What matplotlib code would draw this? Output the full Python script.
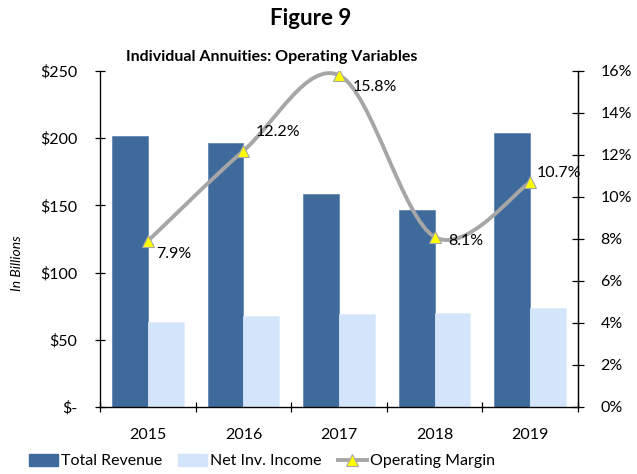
import numpy as np
import matplotlib
matplotlib.use("Agg")
import matplotlib.pyplot as plt
from matplotlib.path import Path
from matplotlib.patches import PathPatch, Patch
from matplotlib.lines import Line2D

plt.rcParams["font.family"] = ["Lato", "DejaVu Sans"]

years = ["2015", "2016", "2017", "2018", "2019"]
total_revenue = [201.5, 196.5, 158.5, 146.5, 203.5]     # $ billions
net_inv_income = [63.0, 68.0, 69.0, 70.0, 74.0]         # $ billions
op_margin = [7.9, 12.2, 15.8, 8.1, 10.7]                # percent
left_ticks = [0, 50, 100, 150, 200, 250]
left_labels = ["$-", "$50", "$100", "$150", "$200", "$250"]
right_ticks = [0, 2, 4, 6, 8, 10, 12, 14, 16]

DARK = "#3E6A9C"
LIGHT = "#D3E5FB"
GREY = "#A6A6A6"
# label offsets (points) relative to each marker
LABEL_OFF = [(6, -9.5), (8.5, 13.5), (10, -8.5), (9.5, -3), (4.5, 7)]

fig = plt.figure(figsize=(6.37, 4.74), dpi=100)
ax = fig.add_axes([100 / 637, 1 - 407 / 474, 478 / 637, 336 / 474])
x = np.arange(len(years))
w = 0.375
ax.bar(x - w / 2, total_revenue, w, color=DARK, edgecolor="#5A7FAE", lw=0.5, zorder=2)
ax.bar(x + w / 2, net_inv_income, w, color=LIGHT, edgecolor="#E2EEFC", lw=0.5, zorder=2)
ax.set_xlim(-0.5, len(years) - 0.5)
ax.set_ylim(0, 250)
ax.set_yticks(left_ticks)
ax.set_yticklabels(left_labels, fontsize=11.5)
ax.tick_params(axis="y", direction="inout", length=6.5, width=0.9, pad=13)
ax.set_xticks(np.arange(len(years) + 1) - 0.5)
ax.set_xticklabels([])
ax.set_xticks(x, minor=True)
ax.set_xticklabels(years, minor=True, fontsize=11.5)
ax.tick_params(axis="x", which="major", direction="inout", length=7, width=0.9)
ax.tick_params(axis="x", which="minor", length=0, pad=15)
for s in ("left", "bottom", "right"):
    ax.spines[s].set_linewidth(0.9)
ax.spines["top"].set_visible(False)

ax2 = ax.twinx()
ax2.set_ylim(0, 16)
ax2.set_yticks(right_ticks)
ax2.set_yticklabels([f"{t}%" for t in right_ticks], fontsize=11.5)
ax2.tick_params(axis="y", direction="inout", length=8.5, width=0.9, pad=12)
ax2.spines["top"].set_visible(False)
ax2.spines["right"].set_linewidth(0.9)

# Excel-style smoothed line: cubic Bezier segments through the data points
px = np.asarray(x, float)
py = np.asarray(op_margin, float)
n = len(px)
verts = [(px[0], py[0])]
codes = [Path.MOVETO]
for i in range(n - 1):
    i0, i3 = max(i - 1, 0), min(i + 2, n - 1)
    c1 = (px[i] + (px[i + 1] - px[i0]) / 6, py[i] + (py[i + 1] - py[i0]) / 6)
    c2 = (px[i + 1] - (px[i3] - px[i]) / 6, py[i + 1] - (py[i3] - py[i]) / 6)
    verts += [c1, c2, (px[i + 1], py[i + 1])]
    codes += [Path.CURVE4] * 3
ax2.add_patch(PathPatch(Path(verts, codes), fc="none", ec=GREY, lw=2.8,
                        capstyle="round", zorder=3))
ax2.plot(px, py, ls="none", marker="^", ms=9, mfc="#FFFF00", mec=GREY,
         mew=0.8, zorder=4)
for xi, yi, off in zip(px, py, LABEL_OFF):
    ax2.annotate(f"{yi:.1f}%", (xi, yi), xytext=off, textcoords="offset points",
                 ha="left", va="center", fontsize=11.5, zorder=5)

fig.text(0.487, 0.962, "Figure 9", ha="center", va="center",
         fontsize=16, fontweight="bold")
fig.text(272 / 637, 1 - 57 / 474, "Individual Annuities: Operating Variables",
         ha="center", va="center", fontsize=11.5, fontweight="bold")
fig.text(17 / 637, 1 - 263 / 474, "In Billions", rotation=90, ha="center",
         va="center", fontsize=10, style="italic")

handles = [Patch(fc=DARK, ec=DARK), Patch(fc=LIGHT, ec=LIGHT),
           Line2D([], [], color=GREY, lw=2.8, marker="^", ms=9,
                  mfc="#FFFF00", mec=GREY, mew=0.8)]
fig.legend(handles, ["Total Revenue", "Net Inv. Income", "Operating Margin"],
           loc="center", bbox_to_anchor=(262 / 637, 1 - 461 / 474), ncol=3,
           frameon=False, fontsize=11.5, handlelength=1.8, handleheight=0.8,
           handletextpad=0.2, columnspacing=1.0, borderpad=0)

fig.savefig("out.png", dpi=100)
